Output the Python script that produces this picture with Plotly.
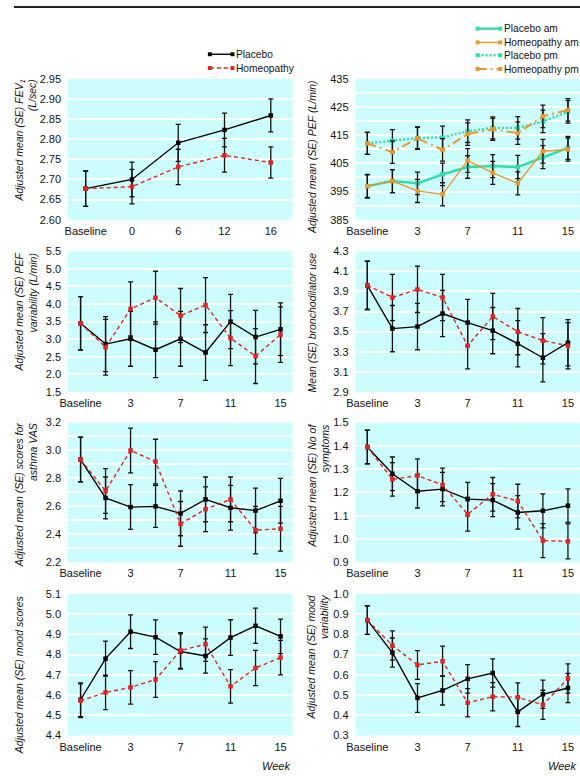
import plotly.graph_objects as go

W, H = 580, 780

# ---------------- data ----------------
weeks_fev = ["Baseline", "0", "6", "12", "16"]
weeks = ["Baseline", "1", "3", "5", "7", "9", "11", "13", "15"]
week_ticks = ["Baseline", "3", "7", "11", "15"]

fev_placebo = [2.677, 2.700, 2.791, 2.823, 2.859]
fev_placebo_se = [0.044, 0.043, 0.046, 0.042, 0.041]
fev_homeo = [2.677, 2.682, 2.731, 2.760, 2.742]
fev_homeo_se = [0.044, 0.043, 0.044, 0.042, 0.039]

pef_placebo_am = [396.9, 398.7, 397.9, 401.1, 403.7, 404.0, 403.7, 407.2, 410.5]
pef_placebo_am_se = [4.0, 4.1, 4.0, 4.0, 4.0, 4.1, 4.1, 4.1, 4.1]
pef_homeo_am = [396.9, 398.7, 395.2, 394.0, 406.0, 401.6, 397.9, 409.3, 409.9]
pef_homeo_am_se = [4.2, 4.1, 4.1, 4.1, 4.2, 4.1, 4.1, 4.2, 4.1]
pef_placebo_pm = [412.1, 413.0, 414.0, 414.2, 416.4, 417.6, 417.6, 419.9, 423.3]
pef_placebo_pm_se = [3.9, 4.0, 3.9, 4.0, 4.0, 3.9, 4.0, 4.0, 4.0]
pef_homeo_pm = [412.1, 409.0, 413.9, 409.8, 415.4, 417.1, 415.7, 421.7, 424.0]
pef_homeo_pm_se = [3.9, 4.0, 3.9, 4.0, 4.0, 3.9, 4.0, 4.0, 4.0]

pefvar_placebo = [3.45, 2.86, 3.01, 2.70, 3.01, 2.62, 3.50, 3.06, 3.28]
pefvar_placebo_se = [0.76, 0.78, 0.78, 0.79, 0.78, 0.79, 0.77, 0.76, 0.75]
pefvar_homeo = [3.45, 2.77, 3.86, 4.18, 3.67, 3.97, 3.03, 2.52, 3.13]
pefvar_homeo_se = [0.76, 0.79, 0.77, 0.75, 0.77, 0.78, 0.78, 0.78, 0.79]

broncho_placebo = [3.96, 3.53, 3.55, 3.68, 3.59, 3.51, 3.38, 3.24, 3.39]
broncho_placebo_se = [0.24, 0.23, 0.23, 0.23, 0.23, 0.23, 0.23, 0.24, 0.23]
broncho_homeo = [3.96, 3.84, 3.92, 3.84, 3.36, 3.65, 3.50, 3.41, 3.36]
broncho_homeo_se = [0.24, 0.23, 0.23, 0.23, 0.23, 0.23, 0.23, 0.23, 0.23]

vas_placebo = [2.935, 2.66, 2.595, 2.60, 2.55, 2.65, 2.59, 2.57, 2.64]
vas_placebo_se = [0.16, 0.15, 0.16, 0.15, 0.16, 0.16, 0.16, 0.16, 0.16]
vas_homeo = [2.935, 2.71, 3.00, 2.92, 2.475, 2.58, 2.65, 2.43, 2.44]
vas_homeo_se = [0.16, 0.16, 0.16, 0.16, 0.16, 0.16, 0.16, 0.17, 0.16]

symp_placebo = [1.395, 1.28, 1.205, 1.214, 1.171, 1.167, 1.114, 1.121, 1.143]
symp_placebo_se = [0.072, 0.072, 0.072, 0.072, 0.072, 0.071, 0.072, 0.073, 0.072]
symp_homeo = [1.395, 1.256, 1.272, 1.232, 1.106, 1.192, 1.163, 0.993, 0.99]
symp_homeo_se = [0.072, 0.072, 0.072, 0.072, 0.072, 0.072, 0.072, 0.073, 0.075]

mood_placebo = [4.577, 4.78, 4.913, 4.886, 4.815, 4.793, 4.884, 4.942, 4.89]
mood_placebo_se = [0.083, 0.086, 0.083, 0.085, 0.087, 0.085, 0.088, 0.087, 0.085]
mood_homeo = [4.572, 4.613, 4.638, 4.677, 4.82, 4.851, 4.643, 4.734, 4.785]
mood_homeo_se = [0.083, 0.085, 0.083, 0.088, 0.088, 0.085, 0.083, 0.087, 0.085]

moodvar_placebo = [0.870, 0.710, 0.486, 0.523, 0.580, 0.609, 0.417, 0.504, 0.535]
moodvar_placebo_se = [0.070, 0.072, 0.071, 0.072, 0.070, 0.070, 0.072, 0.070, 0.072]
moodvar_homeo = [0.870, 0.745, 0.649, 0.667, 0.462, 0.492, 0.489, 0.452, 0.582]
moodvar_homeo_se = [0.070, 0.072, 0.071, 0.075, 0.070, 0.070, 0.071, 0.072, 0.072]

# ---------------- styles ----------------
FONT = "Liberation Sans Narrow, Arial Narrow, Liberation Sans, Arial, sans-serif"
FS = 10.5
BG = "#ccfdfe"
RED = "#e3231f"
TURQ = "#2fdca8"
ORANGE = "#e8962e"

S_PLACEBO = dict(color="black", width=1.4, dash="solid")
S_HOMEO = dict(color=RED, width=1.4, dash="4px,3px")
S_PAM = dict(color=TURQ, width=2.4, dash="solid")
S_HAM = dict(color=ORANGE, width=1.4, dash="solid")
S_PPM = dict(color=TURQ, width=2.4, dash="2px,2px")
S_HPM = dict(color=ORANGE, width=2.0, dash="9px,4px,2px,4px")

LEFT = (60, 288)
RIGHT = (352, 580)
ROWS = [(74, 217), (249, 392), (423, 565), (597, 741)]


def xdom(px):
    return [px[0] / W, px[1] / W]


def ydom(py):
    return [1 - py[1] / H, 1 - py[0] / H]


panels = [
    dict(cols=LEFT, row=0, cats=weeks_fev, ticks=weeks_fev, xr=[-0.38, 4.47],
         yr=[2.60, 2.95], dtick=0.05, minor=None, fmt=".2f",
         series=[(fev_placebo, fev_placebo_se, S_PLACEBO), (fev_homeo, fev_homeo_se, S_HOMEO)],
         title="Adjusted mean (SE) FEV<sub>1</sub><br>(L/sec)", tx=17),
    dict(cols=RIGHT, row=0, cats=weeks, ticks=week_ticks, xr=[-0.47, 8.48],
         yr=[385, 435], dtick=10, minor=5, fmt="d",
         series=[(pef_placebo_am, pef_placebo_am_se, S_PAM), (pef_homeo_am, pef_homeo_am_se, S_HAM),
                 (pef_placebo_pm, pef_placebo_pm_se, S_PPM), (pef_homeo_pm, pef_homeo_pm_se, S_HPM)],
         title="Adjusted mean (SE) PEF (L/min)", tx=308),
    dict(cols=LEFT, row=1, cats=weeks, ticks=week_ticks, xr=[-0.5, 8.48],
         yr=[1.5, 5.5], dtick=0.5, minor=None, fmt=".1f",
         series=[(pefvar_placebo, pefvar_placebo_se, S_PLACEBO), (pefvar_homeo, pefvar_homeo_se, S_HOMEO)],
         title="Adjusted mean (SE) PEF<br>variability (L/min)", tx=17),
    dict(cols=RIGHT, row=1, cats=weeks, ticks=week_ticks, xr=[-0.47, 8.48],
         yr=[2.9, 4.3], dtick=0.2, minor=None, fmt=".1f",
         series=[(broncho_placebo, broncho_placebo_se, S_PLACEBO), (broncho_homeo, broncho_homeo_se, S_HOMEO)],
         title="Mean (SE) bronchodilator use", tx=308),
    dict(cols=LEFT, row=2, cats=weeks, ticks=week_ticks, xr=[-0.5, 8.48],
         yr=[2.2, 3.2], dtick=0.2, minor=0.1, fmt=".1f",
         series=[(vas_placebo, vas_placebo_se, S_PLACEBO), (vas_homeo, vas_homeo_se, S_HOMEO)],
         title="Adjusted mean (SE) scores for<br>asthma VAS", tx=17),
    dict(cols=RIGHT, row=2, cats=weeks, ticks=week_ticks, xr=[-0.47, 8.48],
         yr=[0.9, 1.5], dtick=0.1, minor=None, fmt=".1f",
         series=[(symp_placebo, symp_placebo_se, S_PLACEBO), (symp_homeo, symp_homeo_se, S_HOMEO)],
         title="Adjusted mean (SE) No of<br>symptoms", tx=314),
    dict(cols=LEFT, row=3, cats=weeks, ticks=week_ticks, xr=[-0.5, 8.48],
         yr=[4.4, 5.1], dtick=0.1, minor=None, fmt=".1f",
         series=[(mood_placebo, mood_placebo_se, S_PLACEBO), (mood_homeo, mood_homeo_se, S_HOMEO)],
         title="Adjusted mean (SE) mood scores", tx=10),
    dict(cols=RIGHT, row=3, cats=weeks, ticks=week_ticks, xr=[-0.47, 8.48],
         yr=[0.3, 1.0], dtick=0.1, minor=None, fmt=".1f",
         series=[(moodvar_placebo, moodvar_placebo_se, S_PLACEBO), (moodvar_homeo, moodvar_homeo_se, S_HOMEO)],
         title="Adjusted mean (SE) mood<br>variability", tx=314),
]

fig = go.Figure()
layout = dict(
    width=W, height=H, margin=dict(l=0, r=0, t=0, b=0),
    paper_bgcolor="white", plot_bgcolor=BG, showlegend=False,
    font=dict(family=FONT, size=FS, color="#111"),
)
annotations = []
shapes = []

for i, p in enumerate(panels):
    k = "" if i == 0 else str(i + 1)
    xa, ya = "x" + k, "y" + k
    for vals, se, st in p["series"]:
        fig.add_trace(go.Scatter(
            x=p["cats"], y=vals, xaxis=xa, yaxis=ya, mode="lines+markers",
            line=dict(color=st["color"], width=st["width"], dash=st["dash"]),
            marker=dict(symbol="square", size=4.5, color=st["color"]),
            error_y=dict(type="data", array=se, color="#111", thickness=1.3, width=2.5),
            cliponaxis=False,
        ))
    ax = dict(domain=xdom(p["cols"]), anchor=ya, type="category", range=p["xr"],
              tickmode="array", tickvals=p["ticks"], ticktext=p["ticks"],
              showgrid=False, zeroline=False, showline=False, ticks="",
              tickfont=dict(size=FS + 0.5), ticklabelstandoff=3, fixedrange=True)
    yax = dict(domain=ydom(ROWS[p["row"]]), anchor=xa, range=p["yr"],
               tick0=p["yr"][0], dtick=p["dtick"], tickformat=p["fmt"],
               showgrid=True, gridcolor="white", gridwidth=1.6,
               zeroline=False, showline=False, ticks="",
               tickfont=dict(size=FS + 0.5), ticklabelstandoff=6, fixedrange=True)
    if p["minor"]:
        yax["minor"] = dict(dtick=p["minor"], tick0=p["yr"][0], showgrid=True,
                            gridcolor="white", gridwidth=1.6)
    layout["xaxis" + k] = ax
    layout["yaxis" + k] = yax
    annotations.append(dict(
        text="<i>" + p["title"] + "</i>", xref="paper", yref="paper",
        x=p["tx"] / W, y=1 - (ROWS[p["row"]][0] - 1) / H,
        xanchor="center", yanchor="top", textangle=-90, align="right",
        showarrow=False, font=dict(size=FS, family=FONT, color="#111"),
    ))

# Week labels
for xr in (287, 578):
    annotations.append(dict(text="<i>Week</i>", xref="paper", yref="paper",
                            x=xr / W, y=1 - 772 / H, xanchor="right", yanchor="middle",
                            showarrow=False, font=dict(size=FS + 0.5, family=FONT, color="#111")))

# top rule
shapes.append(dict(type="line", xref="paper", yref="paper", x0=5 / W, x1=1,
                   y0=1 - 1 / H, y1=1 - 1 / H, line=dict(color="#222", width=2)))


def legend(entries, x0, x1, ys):
    for (name, st), y in zip(entries, ys):
        yp = 1 - y / H
        shapes.append(dict(type="line", xref="paper", yref="paper",
                           x0=x0 / W, x1=x1 / W, y0=yp, y1=yp,
                           line=dict(color=st["color"], width=st["width"], dash=st["dash"])))
        for xm in (x0, x1):
            shapes.append(dict(type="rect", xref="paper", yref="paper",
                               x0=(xm - 2) / W, x1=(xm + 2) / W, y0=yp - 2 / H, y1=yp + 2 / H,
                               fillcolor=st["color"], line=dict(width=0)))
        annotations.append(dict(text=name, xref="paper", yref="paper", x=(x1 + 2) / W, y=yp,
                                xanchor="left", yanchor="middle", showarrow=False,
                                font=dict(size=FS - 0.3, family=FONT, color="#111")))


legend([("Placebo", S_PLACEBO), ("Homeopathy", S_HOMEO)], 204, 227, [49, 63])
legend([("Placebo am", S_PAM), ("Homeopathy am", S_HAM), ("Placebo pm", S_PPM),
        ("Homeopathy pm", S_HPM)], 476, 499, [23, 37, 50, 64])

layout["annotations"] = annotations
layout["shapes"] = shapes
fig.update_layout(**layout)
fig.write_html(
    "out.html",
    config={"displayModeBar": False},
    post_script="document.body.style.margin='0';document.body.style.padding='0';"
                "document.body.style.overflow='hidden';"
                "document.documentElement.style.overflow='hidden';",
)
